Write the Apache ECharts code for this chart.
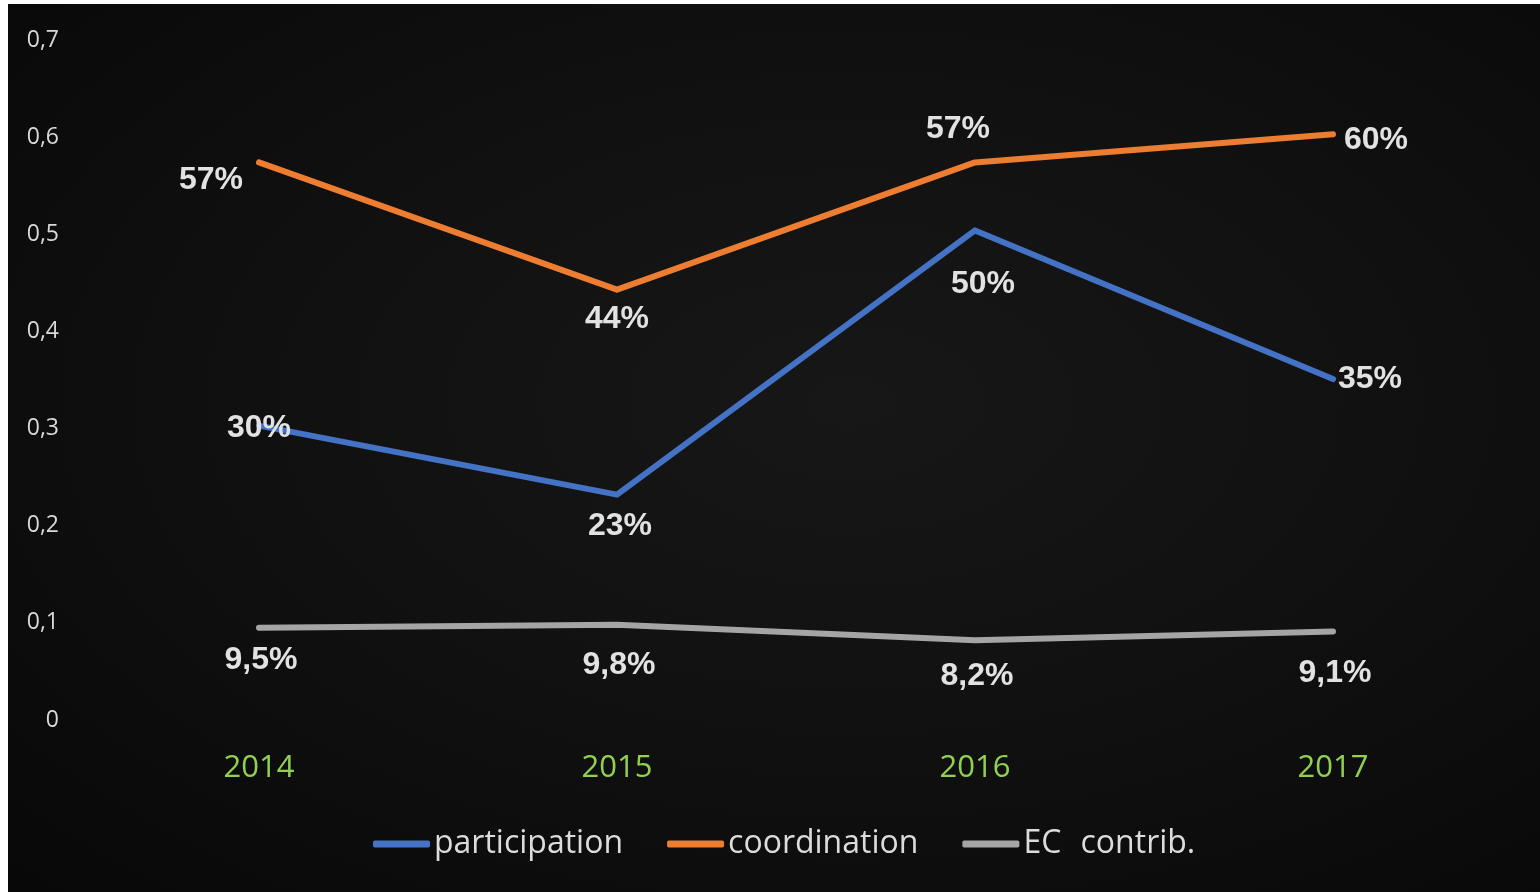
<!DOCTYPE html>
<html>
<head>
<meta charset="utf-8">
<script src="https://cdn.jsdelivr.net/npm/echarts@6/dist/echarts.min.js"></script>
<style>
html,body{margin:0;padding:0;background:#ffffff;width:1540px;height:892px;overflow:hidden;}
#wrap{position:absolute;left:8px;top:4px;width:1532px;height:888px;
  background:radial-gradient(ellipse at 55% 45%, #171717 0%, #111111 45%, #080808 100%);}
#chart{width:1532px;height:888px;}
</style>
</head>
<body>
<div id="wrap"><div id="chart"></div></div>
<script>
const categories = ['2014', '2015', '2016', '2017'];
const participation = [0.303, 0.232, 0.504, 0.351];
const coordination = [0.574, 0.443, 0.574, 0.603];
const ecContrib = [0.095, 0.098, 0.082, 0.091];
const yTicks = ['0', '0,1', '0,2', '0,3', '0,4', '0,5', '0,6', '0,7'];
const seriesNames = ['participation', 'coordination', 'EC\uE000contrib.'];

const labelColor = '#e2e2e2';
const labelFont = {color: labelColor, fontSize: 32, fontWeight: 'bold', fontFamily: '"Liberation Sans", Arial, sans-serif'};

// label placement per point (style only)
const partLabels = [
  {position: 'inside', distance: 0, offset: [0, 3]},
  {position: 'bottom', distance: 15, offset: [3, 0]},
  {position: 'bottom', distance: 37, offset: [8, 0]},
  {position: 'right', distance: 4, offset: [0, 0]}
];
const coordLabels = [
  {position: 'left', distance: 15, offset: [0, 18]},
  {position: 'bottom', distance: 13, offset: [0, 0]},
  {position: 'top', distance: 16, offset: [-17, 0]},
  {position: 'right', distance: 10, offset: [0, 6]}
];
const ecLabels = [
  {position: 'bottom', distance: 15, offset: [2, 0]},
  {position: 'bottom', distance: 23, offset: [2, 0]},
  {position: 'bottom', distance: 19, offset: [2, 0]},
  {position: 'bottom', distance: 25, offset: [2, 0]}
];

function pctInt(v) { return Math.round(v * 100) + '%'; }
function pctOne(v) { return (v * 100).toFixed(1).replace('.', ',') + '%'; }

function buildData(values, placements, fmt) {
  return values.map((v, i) => ({
    value: v,
    label: Object.assign({show: true, formatter: () => fmt(v)}, labelFont, placements[i])
  }));
}

function lineSeries(name, values, color, placements, fmt) {
  return {
    name: name,
    type: 'line',
    data: buildData(values, placements, fmt),
    symbol: 'circle',
    symbolSize: 2,
    showSymbol: true,
    itemStyle: {color: color},
    lineStyle: {color: color, width: 6, cap: 'round', join: 'round'},
    emphasis: {disabled: true},
    animation: false,
    z: 3
  };
}

const chart = echarts.init(document.getElementById('chart'), null, {renderer: 'canvas'});
chart.setOption({
  backgroundColor: 'transparent',
  animation: false,
  grid: {left: 72, right: 28, top: 36, bottom: 172, containLabel: false},
  xAxis: {
    type: 'category',
    data: categories,
    boundaryGap: true,
    axisLine: {show: false},
    axisTick: {show: false},
    splitLine: {show: false},
    axisLabel: {color: '#92d050', fontSize: 31, margin: 33, fontFamily: '"Open Sans", "Noto Sans", sans-serif'}
  },
  yAxis: {
    type: 'value',
    min: 0,
    max: 0.7,
    interval: 0.1,
    axisLine: {show: false},
    axisTick: {show: false},
    splitLine: {show: false},
    axisLabel: {
      color: '#d9d9d9', fontSize: 23, margin: 21,
      fontFamily: '"Open Sans", "Noto Sans", sans-serif',
      formatter: (v) => yTicks[Math.round(v * 10)]
    }
  },
  legend: {
    show: true,
    left: 360,
    top: 819,
    itemWidth: 57,
    itemHeight: 7,
    itemGap: 44,
    icon: 'roundRect',
    textStyle: {color: '#dcdcdc', fontSize: 32, fontFamily: '"Open Sans", "Noto Sans", sans-serif', padding: [0, 0, 0, -1]},
    data: seriesNames
  },
  series: [
    lineSeries(seriesNames[0], participation, '#4472c4', partLabels, pctInt),
    lineSeries(seriesNames[1], coordination, '#ed7d31', coordLabels, pctInt),
    lineSeries(seriesNames[2], ecContrib, '#a5a5a5', ecLabels, pctOne)
  ]
});
</script>
</body>
</html>
